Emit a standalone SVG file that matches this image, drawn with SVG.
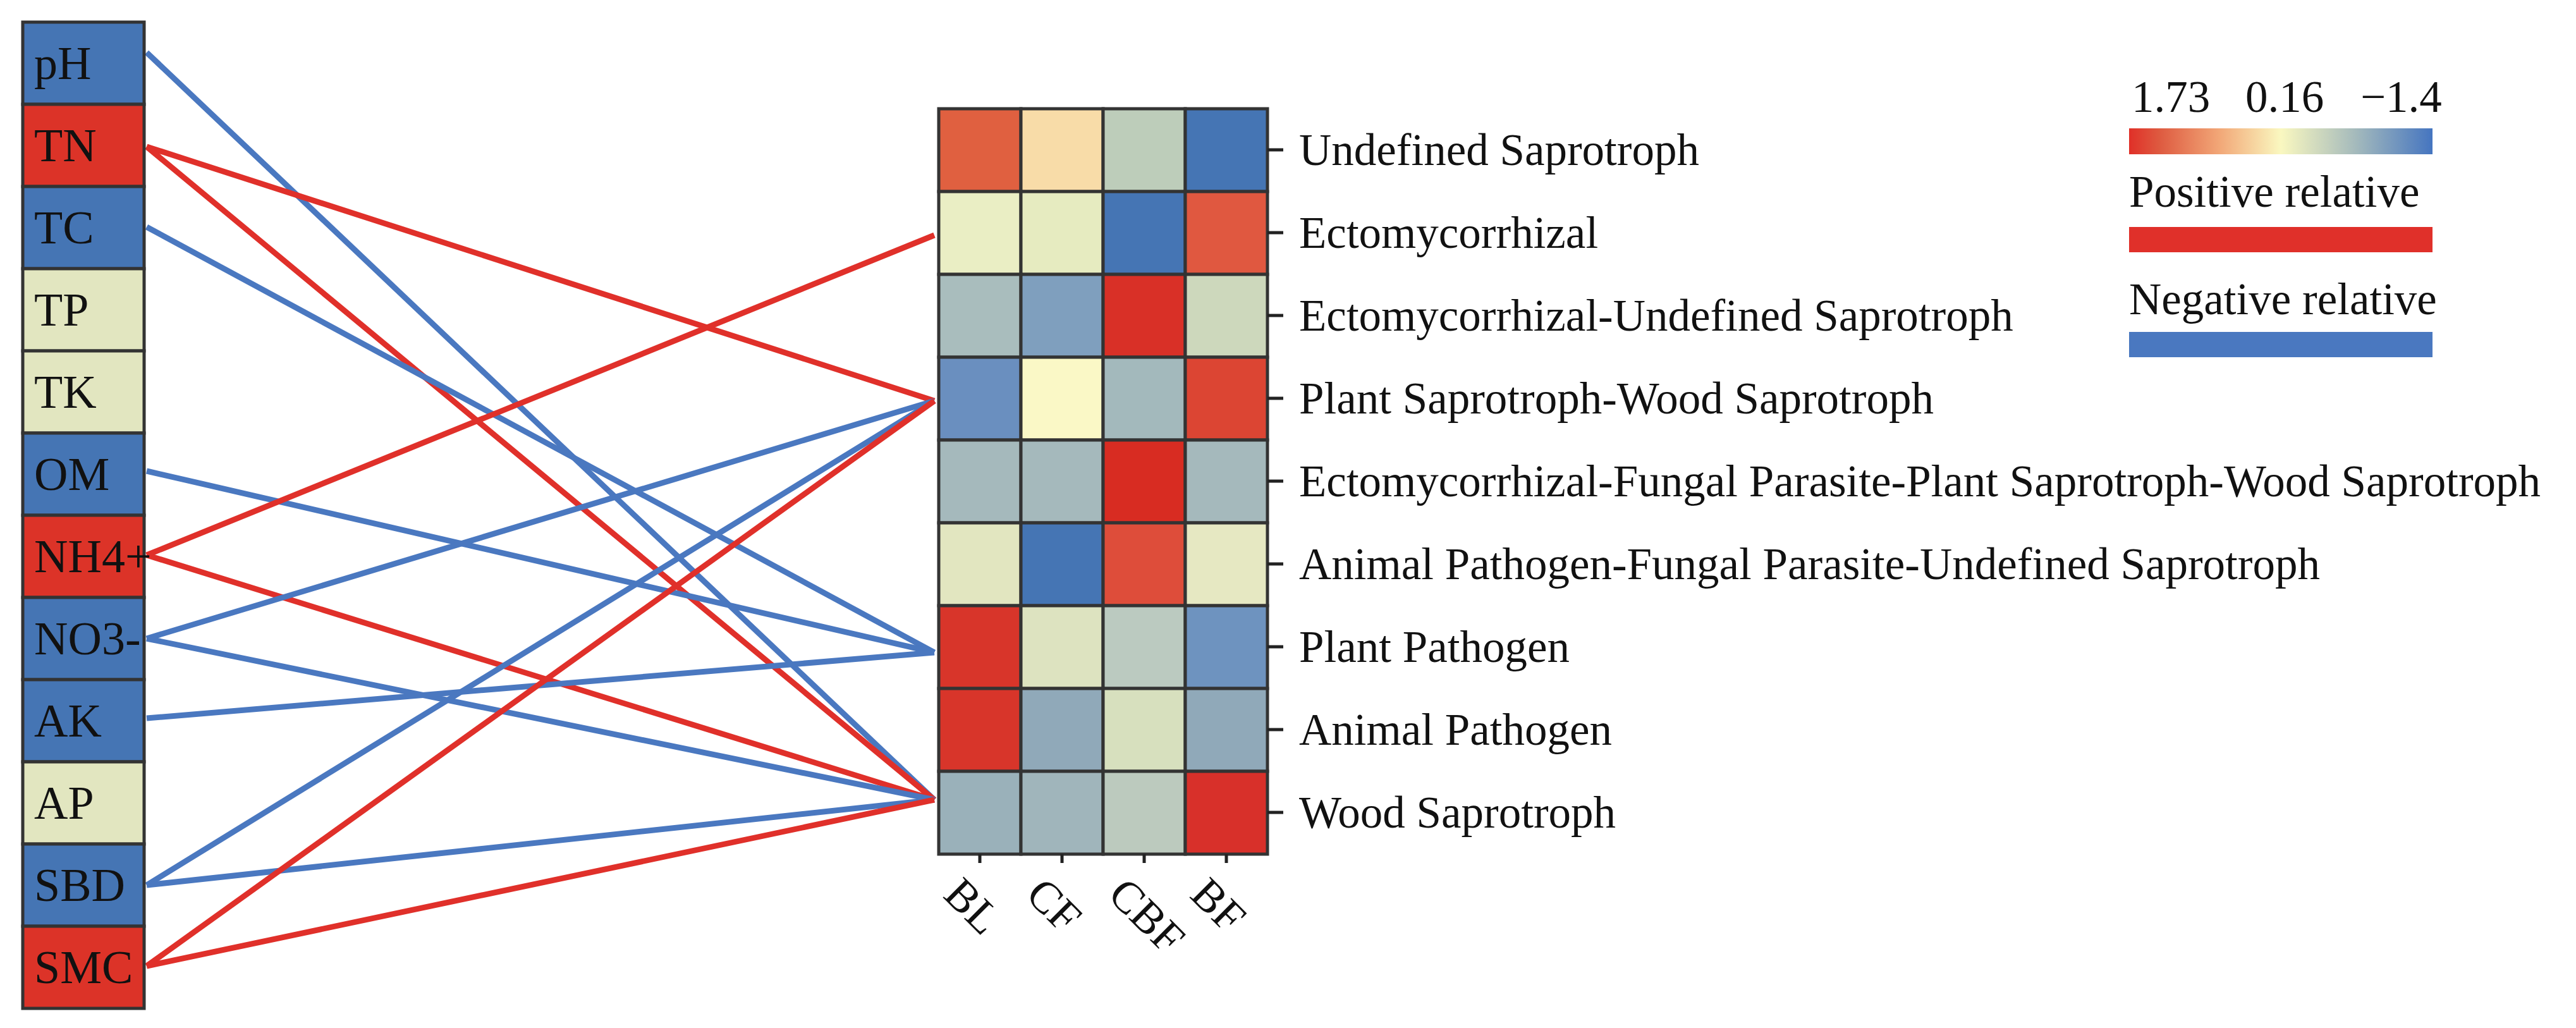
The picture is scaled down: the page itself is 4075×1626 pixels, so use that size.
<svg xmlns="http://www.w3.org/2000/svg" width="4075" height="1626" viewBox="0 0 4075 1626">
<defs>
<style>
text{font-family:"Liberation Serif","Times New Roman",serif;font-size:71px;fill:#111}
.lab{font-size:74px}
.cell{stroke:#333;stroke-width:5}
.b{stroke:#4A78C0;stroke-width:9;fill:none}
.r{stroke:#E0302A;stroke-width:9;fill:none}
.tick{stroke:#222;stroke-width:5}
</style>
<linearGradient id="grad" x1="0" x2="1" y1="0" y2="0">
<stop offset="0" stop-color="#E03028"/>
<stop offset="0.1" stop-color="#DE5A40"/>
<stop offset="0.3" stop-color="#F2A878"/>
<stop offset="0.5" stop-color="#FAF8C0"/>
<stop offset="0.75" stop-color="#A3B9BC"/>
<stop offset="1" stop-color="#4575C0"/>
</linearGradient>
</defs>
<rect width="4075" height="1626" fill="#fff"/>
<g id="connectors">
<line class="b" x1="232" y1="83" x2="1478" y2="1265"/>
<line class="r" x1="232" y1="232" x2="1478" y2="634"/>
<line class="r" x1="232" y1="232" x2="1478" y2="1265"/>
<line class="b" x1="232" y1="359" x2="1478" y2="1032"/>
<line class="b" x1="232" y1="745" x2="1478" y2="1032"/>
<line class="r" x1="232" y1="878" x2="1478" y2="372"/>
<line class="r" x1="232" y1="878" x2="1478" y2="1265"/>
<line class="b" x1="232" y1="1010" x2="1478" y2="634"/>
<line class="b" x1="232" y1="1010" x2="1478" y2="1265"/>
<line class="b" x1="232" y1="1136" x2="1478" y2="1032"/>
<line class="b" x1="232" y1="1400" x2="1478" y2="634"/>
<line class="b" x1="232" y1="1400" x2="1478" y2="1265"/>
<line class="r" x1="232" y1="1528" x2="1478" y2="634"/>
<line class="r" x1="232" y1="1528" x2="1478" y2="1265"/>
</g>
<g id="factors">
<g id="n-pH"><rect class="cell" x="36" y="35" width="192" height="130" fill="#4575B4"/><text class="lab" x="54" y="125">pH</text></g>
<g id="n-TN"><rect class="cell" x="36" y="165" width="192" height="130" fill="#DC3328"/><text class="lab" x="54" y="255">TN</text></g>
<g id="n-TC"><rect class="cell" x="36" y="295" width="192" height="130" fill="#4575B4"/><text class="lab" x="54" y="385">TC</text></g>
<g id="n-TP"><rect class="cell" x="36" y="425" width="192" height="130" fill="#E2E6C0"/><text class="lab" x="54" y="515">TP</text></g>
<g id="n-TK"><rect class="cell" x="36" y="555" width="192" height="130" fill="#E2E6C0"/><text class="lab" x="54" y="645">TK</text></g>
<g id="n-OM"><rect class="cell" x="36" y="685" width="192" height="130" fill="#4575B4"/><text class="lab" x="54" y="775">OM</text></g>
<g id="n-NH4"><rect class="cell" x="36" y="815" width="192" height="130" fill="#DC3328"/><text class="lab" x="54" y="905">NH4+</text></g>
<g id="n-NO3"><rect class="cell" x="36" y="945" width="192" height="130" fill="#4575B4"/><text class="lab" x="54" y="1035">NO3-</text></g>
<g id="n-AK"><rect class="cell" x="36" y="1075" width="192" height="130" fill="#4575B4"/><text class="lab" x="54" y="1165">AK</text></g>
<g id="n-AP"><rect class="cell" x="36" y="1205" width="192" height="130" fill="#E2E6C0"/><text class="lab" x="54" y="1295">AP</text></g>
<g id="n-SBD"><rect class="cell" x="36" y="1335" width="192" height="130" fill="#4575B4"/><text class="lab" x="54" y="1425">SBD</text></g>
<g id="n-SMC"><rect class="cell" x="36" y="1465" width="192" height="130" fill="#DC3328"/><text class="lab" x="54" y="1555">SMC</text></g>
</g>
<g id="heatmap">
<g id="r1"><rect class="cell" x="1485" y="172" width="130" height="131" fill="#E06040"/><rect class="cell" x="1615" y="172" width="130" height="131" fill="#F8DCA8"/><rect class="cell" x="1745" y="172" width="130" height="131" fill="#BDCDBA"/><rect class="cell" x="1875" y="172" width="130" height="131" fill="#4575B4"/></g>
<g id="r2"><rect class="cell" x="1485" y="303" width="130" height="131" fill="#EAEEC4"/><rect class="cell" x="1615" y="303" width="130" height="131" fill="#E6EBC0"/><rect class="cell" x="1745" y="303" width="130" height="131" fill="#4575B4"/><rect class="cell" x="1875" y="303" width="130" height="131" fill="#E05840"/></g>
<g id="r3"><rect class="cell" x="1485" y="434" width="130" height="131" fill="#A9BDBD"/><rect class="cell" x="1615" y="434" width="130" height="131" fill="#7F9FBE"/><rect class="cell" x="1745" y="434" width="130" height="131" fill="#D93027"/><rect class="cell" x="1875" y="434" width="130" height="131" fill="#CDD8BC"/></g>
<g id="r4"><rect class="cell" x="1485" y="565" width="130" height="131" fill="#6A8FBF"/><rect class="cell" x="1615" y="565" width="130" height="131" fill="#FAF8C6"/><rect class="cell" x="1745" y="565" width="130" height="131" fill="#A3B9BC"/><rect class="cell" x="1875" y="565" width="130" height="131" fill="#DC4533"/></g>
<g id="r5"><rect class="cell" x="1485" y="696" width="130" height="131" fill="#A5B9BC"/><rect class="cell" x="1615" y="696" width="130" height="131" fill="#A5B9BC"/><rect class="cell" x="1745" y="696" width="130" height="131" fill="#D82C22"/><rect class="cell" x="1875" y="696" width="130" height="131" fill="#A5B9BC"/></g>
<g id="r6"><rect class="cell" x="1485" y="827" width="130" height="131" fill="#E2E6C0"/><rect class="cell" x="1615" y="827" width="130" height="131" fill="#4575B4"/><rect class="cell" x="1745" y="827" width="130" height="131" fill="#DE4D3A"/><rect class="cell" x="1875" y="827" width="130" height="131" fill="#E6E8C2"/></g>
<g id="r7"><rect class="cell" x="1485" y="958" width="130" height="131" fill="#D8352A"/><rect class="cell" x="1615" y="958" width="130" height="131" fill="#DDE3C0"/><rect class="cell" x="1745" y="958" width="130" height="131" fill="#BBCAC0"/><rect class="cell" x="1875" y="958" width="130" height="131" fill="#6E93BF"/></g>
<g id="r8"><rect class="cell" x="1485" y="1089" width="130" height="131" fill="#D8352A"/><rect class="cell" x="1615" y="1089" width="130" height="131" fill="#90A9B9"/><rect class="cell" x="1745" y="1089" width="130" height="131" fill="#D7E0BE"/><rect class="cell" x="1875" y="1089" width="130" height="131" fill="#90A9B9"/></g>
<g id="r9"><rect class="cell" x="1485" y="1220" width="130" height="131" fill="#9AB1BA"/><rect class="cell" x="1615" y="1220" width="130" height="131" fill="#A0B5BB"/><rect class="cell" x="1745" y="1220" width="130" height="131" fill="#BCCABE"/><rect class="cell" x="1875" y="1220" width="130" height="131" fill="#D8302A"/></g>
<g id="ticks">
<line class="tick" x1="2005" y1="237" x2="2030" y2="237"/><line class="tick" x1="2005" y1="368" x2="2030" y2="368"/><line class="tick" x1="2005" y1="499" x2="2030" y2="499"/><line class="tick" x1="2005" y1="630" x2="2030" y2="630"/><line class="tick" x1="2005" y1="761" x2="2030" y2="761"/><line class="tick" x1="2005" y1="892" x2="2030" y2="892"/><line class="tick" x1="2005" y1="1023" x2="2030" y2="1023"/><line class="tick" x1="2005" y1="1154" x2="2030" y2="1154"/><line class="tick" x1="2005" y1="1285" x2="2030" y2="1285"/>
<line class="tick" x1="1550" y1="1351" x2="1550" y2="1365"/><line class="tick" x1="1680" y1="1351" x2="1680" y2="1365"/><line class="tick" x1="1810" y1="1351" x2="1810" y2="1365"/><line class="tick" x1="1940" y1="1351" x2="1940" y2="1365"/>
</g>
<text x="2055" y="261">Undefined Saprotroph</text>
<text x="2055" y="392">Ectomycorrhizal</text>
<text x="2055" y="523">Ectomycorrhizal-Undefined Saprotroph</text>
<text x="2055" y="654">Plant Saprotroph-Wood Saprotroph</text>
<text x="2055" y="785">Ectomycorrhizal-Fungal Parasite-Plant Saprotroph-Wood Saprotroph</text>
<text x="2055" y="916">Animal Pathogen-Fungal Parasite-Undefined Saprotroph</text>
<text x="2055" y="1047">Plant Pathogen</text>
<text x="2055" y="1178">Animal Pathogen</text>
<text x="2055" y="1309">Wood Saprotroph</text>
<text transform="translate(1490,1418) rotate(45)">BL</text>
<text transform="translate(1620,1418) rotate(45)">CF</text>
<text transform="translate(1750,1418) rotate(45)">CBF</text>
<text transform="translate(1880,1418) rotate(45)">BF</text>
</g>
<g id="legend">
<text x="3372" y="177">1.73</text>
<text x="3552" y="177">0.16</text>
<text x="3734" y="177">−1.4</text>
<rect x="3368" y="203" width="480" height="41" fill="url(#grad)"/>
<text x="3368" y="327">Positive relative</text>
<rect x="3368" y="359" width="480" height="40" fill="#E0302A"/>
<text x="3368" y="497">Negative relative</text>
<rect x="3368" y="525" width="480" height="40" fill="#4A78C0"/>
</g>
</svg>
